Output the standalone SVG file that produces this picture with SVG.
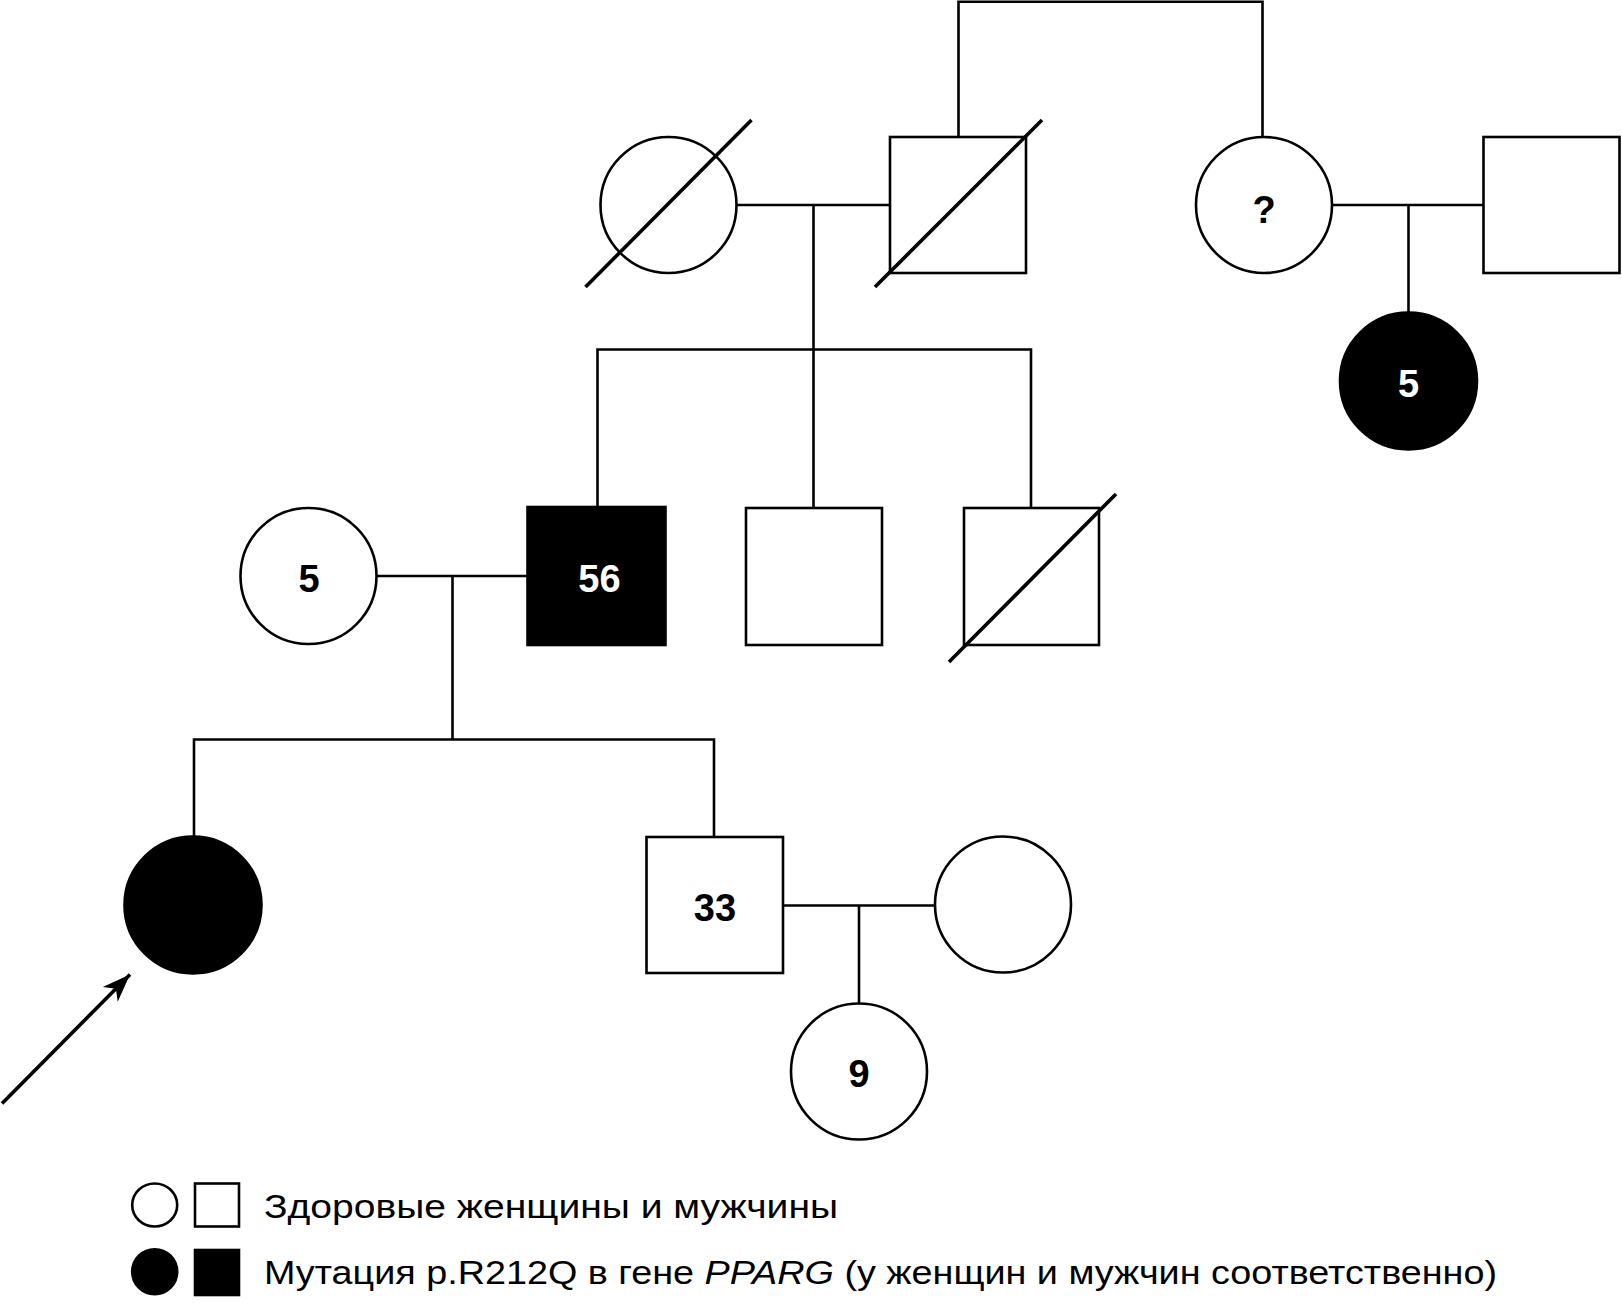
<svg xmlns="http://www.w3.org/2000/svg" width="1622" height="1303" viewBox="0 0 1622 1303">
<defs>
<style>
.o{fill:#fff;stroke:#000;stroke-width:2.6}
.f{fill:#000;stroke:#000;stroke-width:2.6}
.c{fill:none;stroke:#000;stroke-width:2.6}
.s{stroke:#000;stroke-width:3.6;fill:none}
.n{font-family:"Liberation Sans",Arial,sans-serif;font-weight:bold;font-size:38px;text-anchor:middle;fill:#000}
.w{fill:#fff}
.lg{font-family:"Liberation Sans",Arial,sans-serif;font-size:34px;fill:#000}
</style>
<marker id="ah" viewBox="-29 -11 30 22" refX="0" refY="0" markerWidth="30" markerHeight="22" markerUnits="userSpaceOnUse" orient="auto">
<path d="M0,0 L-28,-10.5 L-20,0 L-28,10.5 Z" fill="#000"/>
</marker>
</defs>
<rect width="1622" height="1303" fill="#fff"/>
<g id="connectors">
<path class="c" d="M958.5,137 V1.8 H1262.5 V137"/>
<path class="c" d="M737,205 H890"/>
<path class="c" d="M813.5,205 V508"/>
<path class="c" d="M597.5,507 V349.5 H1031 V508"/>
<path class="c" d="M1332,205 H1483.5"/>
<path class="c" d="M1408.5,205 V312"/>
<path class="c" d="M376.5,576 H527.5"/>
<path class="c" d="M452.5,576 V739.5"/>
<path class="c" d="M194,836 V739.5 H714 V837"/>
<path class="c" d="M783,905.5 H935"/>
<path class="c" d="M859,905.5 V1003.5"/>
<path class="s" d="M2,1103.5 L130,974.5" stroke-width="3.2" marker-end="url(#ah)"/>
</g>
<g id="I-1">
<circle class="o" cx="668.5" cy="205" r="68"/>
<line class="s" x1="585.5" y1="287" x2="751.5" y2="120"/>
</g>
<g id="I-2">
<rect class="o" x="890" y="137" width="136" height="136"/>
<line class="s" x1="875" y1="287" x2="1042" y2="120"/>
</g>
<g id="I-3">
<circle class="o" cx="1264" cy="205" r="68"/>
<text class="n" x="1264" y="223" font-size="34">?</text>
</g>
<g id="I-4">
<rect class="o" x="1483.5" y="137" width="136" height="136"/>
</g>
<g id="II-5">
<circle class="f" cx="1408.5" cy="381" r="68.5"/>
<text class="n w" x="1408.5" y="396.5">5</text>
</g>
<g id="II-1">
<circle class="o" cx="308.5" cy="576" r="68"/>
<text class="n" x="309" y="592.3">5</text>
</g>
<g id="II-2">
<rect class="f" x="527.5" y="507" width="138" height="138"/>
<text class="n w" x="599.5" y="592.3">56</text>
</g>
<g id="II-3">
<rect class="o" x="746" y="508" width="136" height="137"/>
</g>
<g id="II-4">
<rect class="o" x="964" y="508" width="135" height="137"/>
<line class="s" x1="949" y1="662" x2="1116" y2="494"/>
</g>
<g id="III-1">
<circle class="f" cx="193" cy="905" r="68.5"/>
</g>
<g id="III-2">
<rect class="o" x="646.5" y="837" width="136.5" height="136"/>
<text class="n" x="715" y="920.5">33</text>
</g>
<g id="III-3">
<circle class="o" cx="1003" cy="904.5" r="68"/>
</g>
<g id="IV-1">
<circle class="o" cx="859" cy="1071.5" r="68"/>
<text class="n" x="859" y="1086.5">9</text>
</g>
<g id="legend">
<ellipse class="o" cx="154.7" cy="1205" rx="22.5" ry="21.5"/>
<rect class="o" x="195" y="1183.5" width="44" height="43"/>
<text class="lg" x="264" y="1217.5" textLength="574" lengthAdjust="spacingAndGlyphs">Здоровые женщины и мужчины</text>
<ellipse class="f" cx="154.7" cy="1271.7" rx="22.5" ry="22.5"/>
<rect class="f" x="195" y="1250" width="44" height="45"/>
<text class="lg" x="264" y="1283.5" textLength="1233" lengthAdjust="spacingAndGlyphs">Мутация p.R212Q в гене <tspan font-style="italic">PPARG</tspan> (у женщин и мужчин соответственно)</text>
</g>
</svg>
